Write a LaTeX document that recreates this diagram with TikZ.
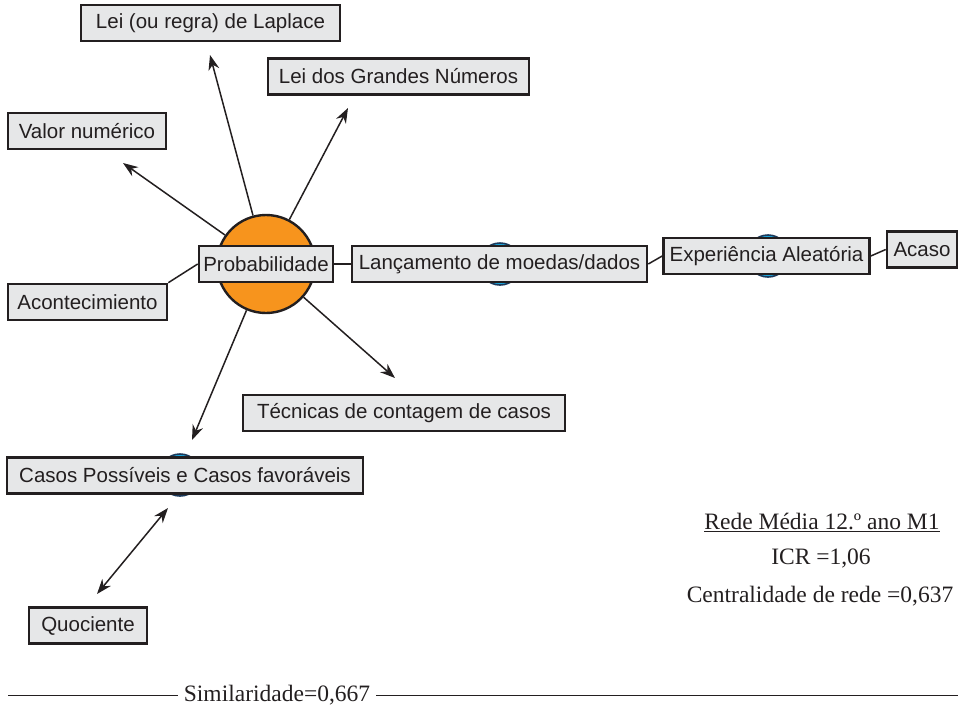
\documentclass[tikz,border=0pt]{standalone}
\usepackage{fontspec}
\setmainfont{Liberation Serif}
\newfontfamily\boxfont{Liberation Sans}
\usetikzlibrary{arrows.meta}
\definecolor{ink}{HTML}{231F20}
\definecolor{boxgray}{HTML}{E6E7E8}
\definecolor{orng}{HTML}{F7941D}
\definecolor{bluec}{HTML}{1BA6DC}
\definecolor{blueedge}{HTML}{1B3A5C}
\tikzset{
  cbox/.style={draw=ink, fill=boxgray, line width=2.6pt, minimum height=36pt,
    inner xsep=2pt, inner ysep=0pt, font=\boxfont\fontsize{20.5}{20.5}\selectfont, text=ink},
  link/.style={draw=ink, line width=1.5pt},
  arr/.style={link, -{Stealth[length=15pt,width=11pt]}},
  darr/.style={link, {Stealth[length=15pt,width=11pt]}-{Stealth[length=15pt,width=11pt]}},
  bluedot/.style={circle, draw=blueedge, fill=bluec, line width=1.6pt, minimum size=42pt, inner sep=0pt},
  stat/.style={font=\fontsize{23.5}{23.5}\selectfont, text=ink, inner sep=0pt}
}
\begin{document}
\begin{tikzpicture}[x=1pt,y=-1pt]
\useasboundingbox (0,0) rectangle (966,707);
% central circle and blue markers
\node[circle, draw=ink, fill=orng, line width=2.4pt, minimum size=98pt, inner sep=0pt] (pc) at (266,264) {};
\node[bluedot] (b1) at (500,264) {};
\node[bluedot] (b2) at (768,256) {};
\node[bluedot] (b3) at (180,475) {};
% boxes
\node[cbox, minimum width=259pt] (lap) at (210.5,23) {Lei (ou regra) de Laplace};
\node[cbox, minimum width=261pt] (lgn) at (398.5,76.5) {Lei dos Grandes Números};
\node[cbox, minimum width=158pt] (val) at (87,131) {Valor numérico};
\node[cbox, minimum width=134pt] (prob) at (266,264) {Probabilidade};
\node[cbox, minimum width=295pt] (lanc) at (499.5,264) {Lançamento de moedas/dados};
\node[cbox, minimum width=206pt] (exp) at (766.5,256) {Experiência Aleatória};
\node[cbox, minimum width=70pt] (acaso) at (922,249.5) {Acaso};
\node[cbox, minimum width=159pt] (acont) at (87.5,302) {Acontecimiento};
\node[cbox, minimum width=322pt] (tec) at (404,413) {Técnicas de contagem de casos};
\node[cbox, minimum width=356pt] (casos) at (185,475.5) {Casos Possíveis e Casos favoráveis};
\node[cbox, minimum width=118pt] (quoc) at (88,625.5) {Quociente};
% arrow tips
\coordinate (tLap) at (210,55);
\coordinate (tLgn) at (348,108);
\coordinate (tVal) at (123,163);
\coordinate (tTec) at (395,378);
\coordinate (tCas) at (192,440);
\coordinate (dA) at (168,508);
\coordinate (dB) at (97,594);
% connectors
\draw[arr] (pc) -- (tLap);
\draw[arr] (pc) -- (tLgn);
\draw[arr] (pc) -- (tVal);
\draw[arr] (pc) -- (tTec);
\draw[arr] (pc) -- (tCas);
\draw[darr] (dA) -- (dB);
\draw[link] (prob.west) -- (acont.north east);
\draw[link] (prob.east) -- (lanc.west);
\draw[link] (lanc.east) -- (exp.west);
\draw[link] (exp.east) -- (acaso.west);
% statistics
\node[stat] (s1) at (822,522) {\underline{Rede Média 12.º ano M1}};
\node[stat] (s2) at (821,558) {ICR =1,06};
\node[stat] (s3) at (820,596) {Centralidade de rede =0,637};
% similarity line
\node[stat] (sim) at (277,695) {Similaridade=0,667};
\coordinate (l0) at (8,695);
\coordinate (l1) at (958,695);
\draw[draw=ink, line width=1pt] (l0) -- ([xshift=-6pt]sim.west |- l0);
\draw[draw=ink, line width=1pt] ([xshift=6pt]sim.east |- l1) -- (l1);
\end{tikzpicture}
\end{document}
